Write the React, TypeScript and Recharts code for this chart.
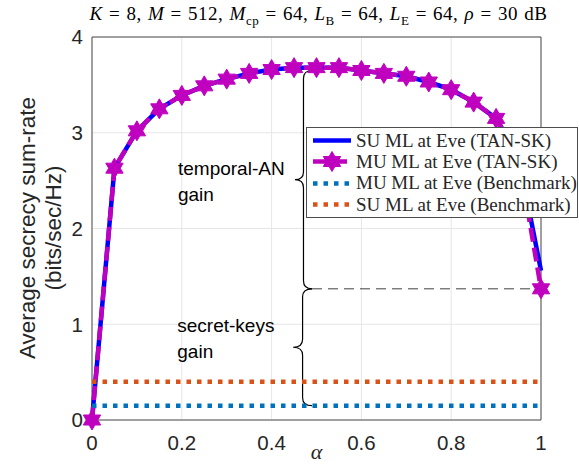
import {
  CartesianGrid,
  Legend,
  Line,
  LineChart,
  ReferenceArea,
  ReferenceDot,
  ReferenceLine,
  XAxis,
  YAxis,
} from "recharts";

const alpha = [0, 0.05, 0.1, 0.15, 0.2, 0.25, 0.3, 0.35, 0.4, 0.45, 0.5, 0.55, 0.6, 0.65, 0.7, 0.75, 0.8, 0.85, 0.9, 0.95, 1];
const suTanSk = [0, 2.63, 3.02, 3.25, 3.39, 3.49, 3.56, 3.62, 3.66, 3.68, 3.68, 3.68, 3.65, 3.62, 3.59, 3.53, 3.45, 3.32, 3.15, 2.75, 1.56];
const muTanSk = [0, 2.63, 3.02, 3.25, 3.39, 3.49, 3.56, 3.62, 3.66, 3.68, 3.68, 3.68, 3.65, 3.62, 3.59, 3.53, 3.45, 3.32, 3.15, 2.75, 1.37];

const benchAlpha = [0, 1];
const muBench = [0.15, 0.15];
const suBench = [0.4, 0.4];

const xTicks = [0, 0.2, 0.4, 0.6, 0.8, 1];
const yTicks = [0, 1, 2, 3, 4];

const rows = alpha.map((a, i) => ({ alpha: a, su: suTanSk[i], mu: muTanSk[i] }));
const benchRows = benchAlpha.map((a, i) => ({ alpha: a, mu: muBench[i], su: suBench[i] }));

const BLUE = "#0000FF";
const MAGENTA = "#BF00BF";
const BENCH_BLUE = "#0072BD";
const BENCH_ORANGE = "#D95319";
const INK = "#262626";
const SANS = '"Liberation Sans", Arial, sans-serif';
const SERIF = '"Liberation Serif", "Times New Roman", serif';

const legendItems = [
  { label: "SU ML at Eve (TAN-SK)", color: BLUE, dash: undefined as string | undefined, star: false },
  { label: "MU ML at Eve (TAN-SK)", color: MAGENTA, dash: "14 6", star: true },
  { label: "MU ML at Eve (Benchmark)", color: BENCH_BLUE, dash: "4.5 6", star: false },
  { label: "SU ML at Eve (Benchmark)", color: BENCH_ORANGE, dash: "4.5 6", star: false },
];

function starPoints(cx: number, cy: number, r: number) {
  const pts: string[] = [];
  for (let i = 0; i < 12; i++) {
    const a = -Math.PI / 2 + (i * Math.PI) / 6;
    const rr = i % 2 === 0 ? r : r / Math.sqrt(3);
    pts.push(`${cx + rr * Math.cos(a)},${cy + rr * Math.sin(a)}`);
  }
  return pts.join(" ");
}

function StarDot(props: any) {
  const { cx, cy, index } = props;
  if (cx == null || cy == null) return null;
  return <polygon key={index} points={starPoints(cx, cy, 10)} fill={MAGENTA} stroke={MAGENTA} />;
}

function Brace(props: any) {
  const { x, y, width, height } = props;
  const tip = x;
  const end = x + width;
  const stem = x + width * 0.5;
  const top = y;
  const bot = y + height;
  const mid = y + height / 2;
  const r = 8;
  const d =
    `M${end},${top} Q${stem},${top} ${stem},${top + r} L${stem},${mid - r} ` +
    `Q${stem},${mid} ${tip},${mid} Q${stem},${mid} ${stem},${mid + r} ` +
    `L${stem},${bot - r} Q${stem},${bot} ${end},${bot}`;
  return <path d={d} fill="none" stroke="#000" strokeWidth={1.2} />;
}

function noteShape(lines: string[]) {
  return (props: any) => (
    <text x={props.cx} y={props.cy} fontFamily={SANS} fontSize={19} fill="#000">
      {lines.map((l, i) => (
        <tspan key={l} x={props.cx} dy={i === 0 ? "0.35em" : 26}>
          {l}
        </tspan>
      ))}
    </text>
  );
}

function LegendBox() {
  return (
    <div
      style={{
        width: 272,
        height: 91,
        border: "1px solid #4d4d4d",
        background: "#fff",
        fontFamily: SERIF,
        fontSize: 19,
        color: INK,
        paddingTop: 2,
        boxSizing: "border-box",
      }}
    >
      {legendItems.map((item) => (
        <div key={item.label} style={{ height: 21.3, display: "flex", alignItems: "center", whiteSpace: "nowrap" }}>
          <svg width={49} height={21} style={{ flex: "none" }}>
            <line x1={6} x2={44} y1={10.5} y2={10.5} stroke={item.color} strokeWidth={4.5} strokeDasharray={item.dash} />
            {item.star && <polygon points={starPoints(25, 10.5, 10)} fill={item.color} stroke={item.color} />}
          </svg>
          <span>{item.label}</span>
        </div>
      ))}
    </div>
  );
}

const tickStyle = { fontFamily: SANS, fontSize: 20.5, fill: INK };
const subStyle = { fontSize: 13, lineHeight: 0 };

export default function App() {
  return (
    <div style={{ position: "fixed", left: 0, top: 0, width: 579, height: 464, background: "#fff", overflow: "hidden" }}>
      <LineChart width={579} height={464} data={rows} margin={{ top: 37, right: 38, bottom: 14, left: 52 }}>
        <CartesianGrid stroke="#e6e6e6" />
        <XAxis
          type="number"
          dataKey="alpha"
          domain={[0, 1]}
          ticks={xTicks}
          interval={0}
          height={30}
          tickLine={false}
          tickMargin={9}
          axisLine={false}
          tick={tickStyle}
        />
        <YAxis
          type="number"
          domain={[0, 4]}
          ticks={yTicks}
          interval={0}
          width={40}
          tickLine={false}
          tickMargin={3}
          axisLine={false}
          tick={tickStyle}
        />
        <ReferenceArea x1={0} x2={1} y1={0} y2={4} fill="none" stroke="#4d4d4d" strokeWidth={1} />
        <ReferenceArea x1={0.452} x2={0.49} y1={1.37} y2={3.65} shape={Brace} />
        <ReferenceArea x1={0.448} x2={0.49} y1={0.15} y2={1.37} shape={Brace} />
        <ReferenceLine
          segment={[{ x: 0.49, y: 1.37 }, { x: 1, y: 1.37 }]}
          stroke="#404040"
          strokeDasharray="10 6"
        />
        <ReferenceDot x={0.1915} y={2.63} r={0} shape={noteShape(["temporal-AN", "gain"])} />
        <ReferenceDot x={0.19} y={0.99} r={0} shape={noteShape(["secret-keys", "gain"])} />
        <Line dataKey="su" stroke={BLUE} strokeWidth={4.5} dot={false} isAnimationActive={false} />
        <Line
          dataKey="mu"
          stroke={MAGENTA}
          strokeWidth={4.5}
          strokeDasharray="14 6"
          dot={StarDot}
          isAnimationActive={false}
        />
        <Line data={benchRows} dataKey="mu" stroke={BENCH_BLUE} strokeWidth={4.5} strokeDasharray="4.5 6" dot={false} isAnimationActive={false} />
        <Line data={benchRows} dataKey="su" stroke={BENCH_ORANGE} strokeWidth={4.5} strokeDasharray="4.5 6" dot={false} isAnimationActive={false} />
        <Legend
          layout="vertical"
          align="center"
          verticalAlign="middle"
          content={LegendBox}
          wrapperStyle={{ left: 306, top: 127, width: 273, height: 91 }}
        />
      </LineChart>
      <svg width={80} height={464} style={{ position: "absolute", left: 0, top: 0 }}>
        <g fontFamily={SANS} fontSize={22.5} fill={INK} textAnchor="middle">
          <text transform="translate(35,228) rotate(-90)">Average secrecy sum-rate</text>
          <text transform="translate(61,228) rotate(-90)">(bits/sec/Hz)</text>
        </g>
      </svg>
      <div
        style={{
          position: "absolute",
          left: 0,
          width: 637,
          top: 3,
          textAlign: "center",
          fontFamily: SERIF,
          fontSize: 19,
          letterSpacing: 0.5,
          wordSpacing: 1,
          lineHeight: "22px",
          color: "#000",
          whiteSpace: "nowrap",
        }}
      >
        <i>K</i> = 8, <i>M</i> = 512, <i>M</i>
        <sub style={subStyle}>cp</sub> = 64, <i>L</i>
        <sub style={subStyle}>B</sub> = 64, <i>L</i>
        <sub style={subStyle}>E</sub> = 64, <i>ρ</i> = 30 dB
      </div>
      <div
        style={{
          position: "absolute",
          left: 0,
          width: 633,
          top: 441,
          lineHeight: "22px",
          textAlign: "center",
          fontFamily: SERIF,
          fontStyle: "italic",
          fontSize: 22,
          color: INK,
        }}
      >
        α
      </div>
    </div>
  );
}
